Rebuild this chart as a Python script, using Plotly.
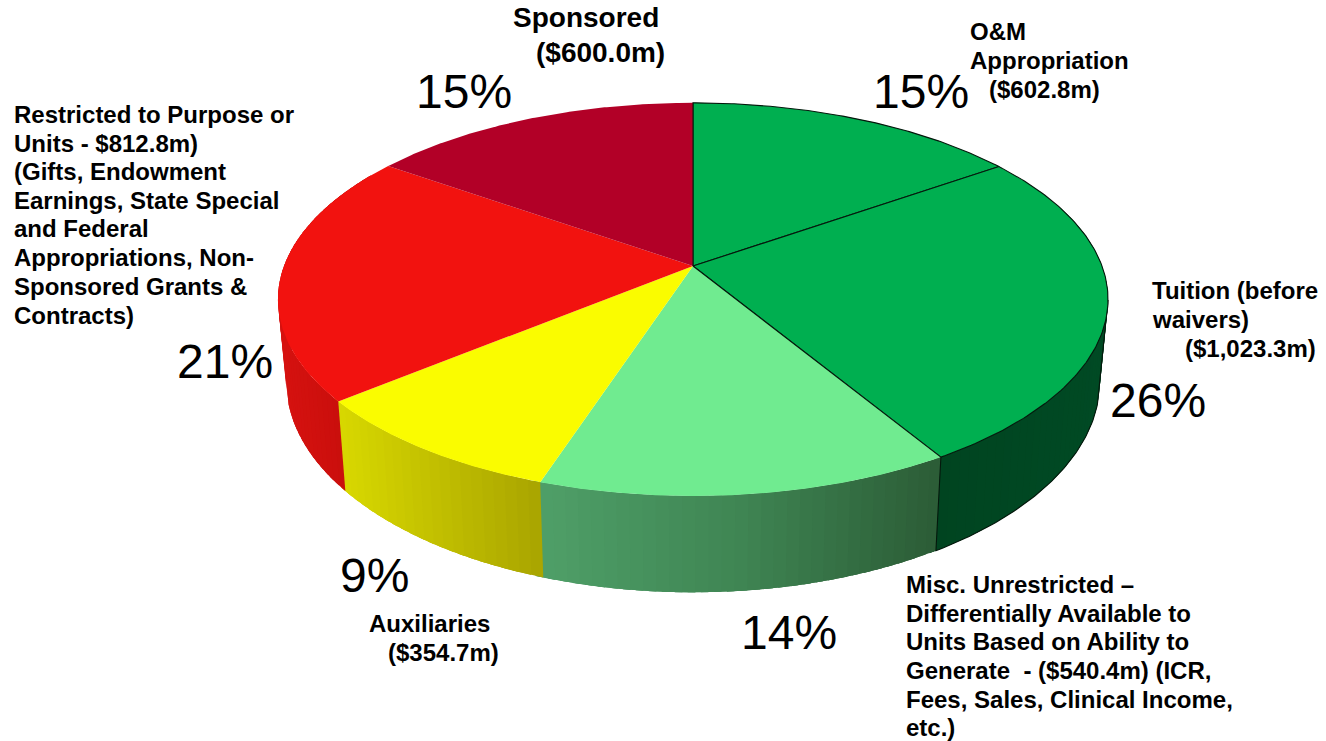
import numpy as np
import plotly.graph_objects as go

# Funding sources, in millions of dollars, clockwise from twelve o'clock
categories = ["O&M Appropriation", "Tuition", "Misc. Unrestricted", "Auxiliaries", "Restricted", "Sponsored"]
amounts = [602.8, 1023.3, 540.4, 354.7, 812.8, 600.0]

label_lines = [
    ["O&M", "Appropriation", "($602.8m)"],
    ["Tuition (before", "waivers)", "($1,023.3m)"],
    ["Misc. Unrestricted –", "Differentially Available to", "Units Based on Ability to",
     "Generate\u00a0\u00a0- ($540.4m) (ICR,", "Fees, Sales, Clinical Income,", "etc.)"],
    ["Auxiliaries", "($354.7m)"],
    ["Restricted to Purpose or", "Units - $812.8m)", "(Gifts, Endowment", "Earnings, State Special",
     "and Federal", "Appropriations, Non-", "Sponsored Grants &", "Contracts)"],
    ["Sponsored", "($600.0m)"],
]

# Styling per slice
top_colors = ["#00AF50", "#00AF50", "#70EB90", "#FAFC00", "#F2120F", "#B20027"]
wall_stops = [
    [(0, "#004420"), (1, "#004420")],
    [(0, "#004420"), (1, "#004a24")],
    [(0, "#4F9F68"), (0.5, "#3F8553"), (1, "#2B5C36")],
    [(0, "#D8D800"), (1, "#A9A400")],
    [(0, "#D61210"), (1, "#C40D0A")],
    [(0, "#B20027"), (1, "#B20027")],
]
outlined = [True, True, False, False, False, False]
OUTLINE = "#04180C"

# Layout of the text: per slice, per line, left edge and vertical centre
label_xy = [
    [(969, 31), (969, 60), (988, 89)],
    [(1151, 290), (1151, 319), (1184, 348)],
    [(905, 584), (905, 613), (905, 641), (905, 670), (905, 699), (905, 727.5)],
    [(368, 623), (387, 652)],
    [(13, 114), (13, 143), (13, 171), (13, 200), (13, 228.5), (13, 257), (13, 286), (13, 315)],
    [(512, 17), (535, 52)],
]
label_size = [24, 24, 24, 24, 24, 28]
percent_xy = [(921, 91), (1158, 400), (789, 632), (374, 575), (225, 361), (464, 91)]

# Perspective disc: plan-view unit circle projected onto the page
CX, CY, AX, BY, K = 693.0, 266.0, 409.0, 190.9, 0.17
DROP, SHRINK = 80.0, 0.98


def top_ring(deg):
    a = np.radians(deg)
    u, v = np.sin(a), -np.cos(a)
    d = 1 - K * v
    return CX + AX * u / d, CY + BY * v / d


def bottom_ring(deg):
    a = np.radians(deg)
    v = -np.cos(a)
    x, y = top_ring(deg)
    return CX + (x - CX) * SHRINK, y + DROP / (1 - K * v)


def hex_rgb(c):
    return np.array([int(c[i:i + 2], 16) for i in (1, 3, 5)], float)


def wall_color(stops, t):
    pos = [s[0] for s in stops]
    rgb = np.array([hex_rgb(s[1]) for s in stops])
    vals = [np.interp(t, pos, rgb[:, i]) for i in range(3)]
    return "rgb({:.0f},{:.0f},{:.0f})".format(*vals)


def poly(x, y, fill=None, line=None, width=1.0):
    return go.Scatter(
        x=list(x), y=list(y), mode="lines", hoverinfo="skip", showlegend=False,
        fill="toself" if fill else "none", fillcolor=fill,
        line=dict(color=line or "rgba(0,0,0,0)", width=width),
    )


total = sum(amounts)
edges = np.concatenate([[0.0], np.cumsum(amounts)]) / total * 360.0
fig = go.Figure()

# Rim of the disc: thin overlapping bands painted clockwise, so that no
# background shows between neighbouring shades
for i in range(len(amounts)):
    start, end = edges[i], edges[i + 1]
    if end <= 90:
        continue
    start = max(start, 70.0)
    if start >= 300:
        continue
    end = min(end, 300.0)
    steps = np.linspace(start, end, max(2, int((end - start) / 1.5) + 1))
    xs, _ = top_ring(steps)
    lo, hi = xs.min(), xs.max()
    for a0 in steps[:-1]:
        band = np.linspace(a0, min(a0 + 4.0, end + 1.0), 6)
        xt, yt = top_ring(band)
        xb, yb = bottom_ring(band)
        t = (top_ring(a0 + 0.75)[0] - lo) / (hi - lo)
        # Shading runs left to right across the slice on the page
        fig.add_trace(poly(np.r_[xt, xb[::-1], xt[0]], np.r_[yt, yb[::-1], yt[0]],
                           fill=wall_color(wall_stops[i], t), width=0))

# Dark edge along the tuition rim
sweep = np.linspace(edges[1], edges[2], 160)
sweep = sweep[sweep >= 70]
xb, yb = bottom_ring(sweep)
xt, yt = top_ring(sweep)
right = int(np.argmax(xb))
fig.add_trace(poly(
    np.r_[xt[right], xb[right:], top_ring(edges[2])[0]],
    np.r_[yt[right], yb[right:], top_ring(edges[2])[1]],
    line=OUTLINE, width=1.1))

# Top faces of the slices
for i in range(len(amounts)):
    arc = np.linspace(edges[i], edges[i + 1], 140)
    x, y = top_ring(arc)
    px = np.r_[CX, x, CX]
    py = np.r_[CY, y, CY]
    if outlined[i]:
        fig.add_trace(poly(px, py, fill=top_colors[i], line=OUTLINE, width=1.1))
    else:
        fig.add_trace(poly(px, py, fill=top_colors[i], width=0))

# Redraw the shared green edges so the neighbouring faces do not cover them
boundary = np.array([edges[1], edges[2]])
xe, ye = top_ring(boundary)
fig.add_trace(poly([CX, xe[1]], [CY, ye[1]], line=OUTLINE, width=1.1))
fig.add_trace(poly([CX, CX], [CY, top_ring(0.0)[1]], line=OUTLINE, width=1.0))

font_family = "Liberation Sans, Arial, sans-serif"
annotations = []
for lines, spots, size in zip(label_lines, label_xy, label_size):
    for text, (x, y) in zip(lines, spots):
        annotations.append(dict(
            x=x, y=y, xref="x", yref="y", text=f"<b>{text}</b>", showarrow=False,
            xanchor="left", yanchor="middle", borderpad=0,
            font=dict(family=font_family, size=size, color="#000000"),
        ))
for amount, (x, y) in zip(amounts, percent_xy):
    annotations.append(dict(
        x=x, y=y, xref="x", yref="y", text=f"{amount / total * 100:.0f}%", showarrow=False,
        xanchor="center", yanchor="middle", borderpad=0,
        font=dict(family=font_family, size=48, color="#000000"),
    ))

fig.update_layout(
    width=1326, height=741, margin=dict(l=0, r=0, t=0, b=0),
    paper_bgcolor="#FFFFFF", plot_bgcolor="#FFFFFF", showlegend=False,
    xaxis=dict(range=[0, 1326], visible=False, fixedrange=True),
    yaxis=dict(range=[741, 0], visible=False, fixedrange=True),
    annotations=annotations,
)
fig.write_html("out.html", config=dict(displayModeBar=False))
